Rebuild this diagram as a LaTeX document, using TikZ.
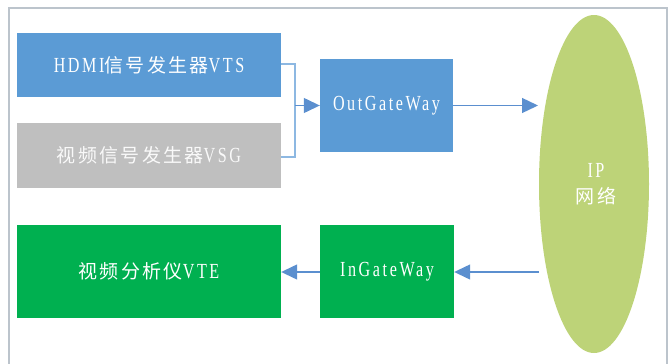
\documentclass[tikz,border=0pt]{standalone}
\usepackage{fontspec}
\usetikzlibrary{arrows.meta,shapes.geometric}
\newfontfamily\latfont{Liberation Serif}[FakeStretch=0.75,LetterSpace=12]
\newfontfamily\zhfont{Noto Sans CJK SC}[LetterSpace=12]
\newcommand\ltx[1]{{\latfont\fontsize{21.5}{24}\selectfont #1}}
\newcommand\zhx[1]{{\zhfont\fontsize{19}{22}\selectfont #1}}
\definecolor{boxblue}{HTML}{5B9BD5}
\definecolor{boxgray}{HTML}{BFBFBF}
\definecolor{boxgreen}{HTML}{00B050}
\definecolor{netgreen}{HTML}{BDD378}
\definecolor{framegray}{HTML}{BCC4CC}
\definecolor{linkblue}{HTML}{5B8FCF}
\definecolor{brackblue}{HTML}{8DB8E2}
\tikzset{
  blk/.style={rectangle, draw=none, text=white, inner sep=0pt, align=center},
  link/.style={draw=linkblue, line width=1.3pt, -{Triangle[length=16pt,width=15pt]}},
  brack/.style={draw=brackblue, line width=1.2pt},
}
\begin{document}
\begin{tikzpicture}[x=1pt,y=-1pt]
\useasboundingbox (0,0) rectangle (670,364);
% outer frame (open at the bottom edge)
\draw[framegray, line width=1.4pt] (9,366) -- (9,8) -- (667,8) -- (667,366);

% sources
\node[blk, fill=boxblue, minimum width=264pt, minimum height=64pt] (vts) at (149,65)
  {\ltx{HDMI}\zhx{信号发生器}\ltx{VTS}};
\node[blk, fill=boxgray, minimum width=264pt, minimum height=65pt, text=white!95!gray] (vsg) at (149,155.5)
  {\zhx{视频信号发生器}\ltx{VSG}};
% analyser
\node[blk, fill=boxgreen, minimum width=264pt, minimum height=93pt] (vte) at (149,271.5)
  {\zhx{视频分析仪}\ltx{VTE}};
% gateways
\node[blk, fill=boxblue, minimum width=133pt, minimum height=93pt] (out) at (386.5,105.5)
  {\ltx{OutGateWay}};
\node[blk, fill=boxgreen, minimum width=134pt, minimum height=93pt] (in) at (387,271.5)
  {\ltx{InGateWay}};
% IP network
\node[ellipse, fill=netgreen, draw=none, minimum width=110pt, minimum height=338pt, inner sep=0pt] (net) at (594,184) {};
\node[text=white, align=center] (netlbl) at (596,184)
  {\ltx{IP}\\[9pt]\zhx{网络}};

% junction of the two sources
\coordinate (jn) at (295,105.5);
\draw[brack] (vts.east |- 0,64) -| (jn) |- (vsg.east |- 0,157);
\draw[link] (jn) -- (out.west);

% to and from the network
\coordinate (netin) at (538,105.5);
\coordinate (netout) at (539,272);
\draw[link] (out.east) -- (netin);
\draw[link] (netout) -- (in.east |- netout);
\draw[link] (in.west |- netout) -- (vte.east |- netout);
\end{tikzpicture}
\end{document}
